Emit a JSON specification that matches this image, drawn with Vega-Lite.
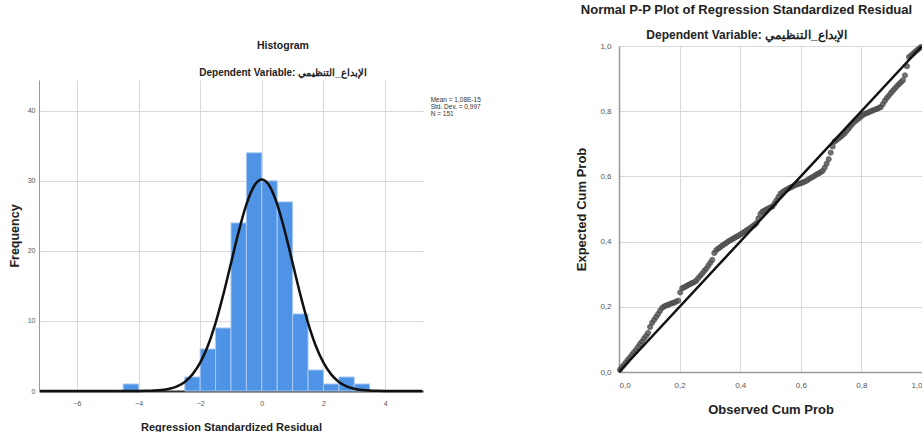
{
  "$schema": "https://vega.github.io/schema/vega-lite/v6.json",
  "background": "white",
  "padding": {"left": 8, "top": 4, "right": 0, "bottom": 0},
  "config": {
    "view": {"stroke": null},
    "font": "Liberation Sans",
    "concat": {"spacing": 94}
  },
  "hconcat": [
    {
      "title": {
        "text": "Histogram",
        "subtitle": "Dependent Variable: الإبداع_التنظيمي",
        "fontSize": 10.5,
        "fontWeight": "bold",
        "subtitleFontSize": 10,
        "subtitleFontWeight": "bold",
        "subtitlePadding": 17,
        "color": "#222222",
        "subtitleColor": "#222222",
        "frame": "group",
        "anchor": "middle",
        "dx": 244,
        "offset": -32
      },
      "spacing": 0,
      "vconcat": [
        {
          "width": 384,
          "height": 34,
          "data": {"values": []},
          "mark": {"type": "text"},
          "encoding": {}
        },
        {
          "width": 384,
          "height": 311,
          "layer": [
            {
              "data": {
                "values": [
                  {"bin_start": -4.5, "bin_end": -4.0, "count": 1},
                  {"bin_start": -2.5, "bin_end": -2.0, "count": 2},
                  {"bin_start": -2.0, "bin_end": -1.5, "count": 6},
                  {"bin_start": -1.5, "bin_end": -1.0, "count": 9},
                  {"bin_start": -1.0, "bin_end": -0.5, "count": 24},
                  {"bin_start": -0.5, "bin_end": 0.0, "count": 34},
                  {"bin_start": 0.0, "bin_end": 0.5, "count": 30},
                  {"bin_start": 0.5, "bin_end": 1.0, "count": 27},
                  {"bin_start": 1.0, "bin_end": 1.5, "count": 11},
                  {"bin_start": 1.5, "bin_end": 2.0, "count": 3},
                  {"bin_start": 2.0, "bin_end": 2.5, "count": 1},
                  {"bin_start": 2.5, "bin_end": 3.0, "count": 2},
                  {"bin_start": 3.0, "bin_end": 3.5, "count": 1}
                ]
              },
              "mark": {"type": "rect", "color": "#4f93e6", "stroke": "#a9c9f0", "strokeWidth": 1},
              "encoding": {
                "x": {
                  "field": "bin_start",
                  "type": "quantitative",
                  "scale": {"domain": [-7.23, 5.23], "nice": false, "zero": false},
                  "axis": {
                    "values": [-6, -4, -2, 0, 2, 4],
                    "grid": true,
                    "gridColor": "#d9d9d9",
                    "domainColor": "#333333",
                    "domainWidth": 2,
                    "ticks": false,
                    "labelFontSize": 7,
                    "labelColor": "#555555",
                    "labelPadding": 8,
                    "title": "Regression Standardized Residual",
                    "titleFontSize": 11,
                    "titleFontWeight": "bold",
                    "titleColor": "#222222",
                    "titlePadding": 15
                  }
                },
                "x2": {"field": "bin_end"},
                "y": {
                  "field": "count",
                  "type": "quantitative",
                  "scale": {"domain": [0, 44.4], "nice": false},
                  "axis": {
                    "values": [0, 10, 20, 30, 40],
                    "grid": true,
                    "gridColor": "#d9d9d9",
                    "domainColor": "#999999",
                    "ticks": false,
                    "labelFontSize": 7,
                    "labelColor": "#555555",
                    "labelPadding": 4,
                    "title": "Frequency",
                    "titleFontSize": 12.5,
                    "titleFontWeight": "bold",
                    "titleColor": "#222222",
                    "titlePadding": 6
                  }
                },
                "y2": {"datum": 0}
              }
            },
            {
              "data": {
                "values": [
                  {"residual": -7.2, "density": 0},
                  {"residual": -5.0, "density": 0},
                  {"residual": -4.5, "density": 0.001},
                  {"residual": -4.0, "density": 0.01},
                  {"residual": -3.75, "density": 0.026},
                  {"residual": -3.5, "density": 0.064},
                  {"residual": -3.25, "density": 0.149},
                  {"residual": -3.0, "density": 0.33},
                  {"residual": -2.75, "density": 0.67},
                  {"residual": -2.5, "density": 1.30},
                  {"residual": -2.25, "density": 2.37},
                  {"residual": -2.0, "density": 4.04},
                  {"residual": -1.75, "density": 6.47},
                  {"residual": -1.5, "density": 9.74},
                  {"residual": -1.25, "density": 13.76},
                  {"residual": -1.0, "density": 18.26},
                  {"residual": -0.75, "density": 22.76},
                  {"residual": -0.5, "density": 26.63},
                  {"residual": -0.25, "density": 29.27},
                  {"residual": 0.0, "density": 30.2},
                  {"residual": 0.25, "density": 29.27},
                  {"residual": 0.5, "density": 26.63},
                  {"residual": 0.75, "density": 22.76},
                  {"residual": 1.0, "density": 18.26},
                  {"residual": 1.25, "density": 13.76},
                  {"residual": 1.5, "density": 9.74},
                  {"residual": 1.75, "density": 6.47},
                  {"residual": 2.0, "density": 4.04},
                  {"residual": 2.25, "density": 2.37},
                  {"residual": 2.5, "density": 1.30},
                  {"residual": 2.75, "density": 0.67},
                  {"residual": 3.0, "density": 0.33},
                  {"residual": 3.25, "density": 0.149},
                  {"residual": 3.5, "density": 0.064},
                  {"residual": 3.75, "density": 0.026},
                  {"residual": 4.0, "density": 0.01},
                  {"residual": 4.5, "density": 0.001},
                  {"residual": 5.2, "density": 0}
                ]
              },
              "mark": {"type": "line", "color": "#111111", "strokeWidth": 2.5, "interpolate": "monotone"},
              "encoding": {
                "x": {"field": "residual", "type": "quantitative"},
                "y": {"field": "density", "type": "quantitative"}
              }
            },
            {
              "data": {"values": [{"stats": "Mean = 1,08E-15\nStd. Dev. = 0,997\nN = 151"}]},
              "mark": {"type": "text", "lineBreak": "\n", "align": "left", "baseline": "top", "fontSize": 6.5, "lineHeight": 7, "color": "#333333"},
              "encoding": {
                "x": {"datum": 5.48},
                "y": {"datum": 42.0},
                "text": {"field": "stats"}
              }
            }
          ]
        }
      ]
    },
    {
      "width": 303,
      "height": 326,
      "title": {
        "text": "Normal P-P Plot of Regression Standardized Residual",
        "subtitle": "Dependent Variable: الإبداع_التنظيمي",
        "fontSize": 13,
        "fontWeight": "bold",
        "subtitleFontSize": 12,
        "subtitleFontWeight": "bold",
        "subtitlePadding": 13,
        "color": "#222222",
        "subtitleColor": "#222222",
        "frame": "group",
        "anchor": "middle",
        "dx": -24,
        "offset": 0
      },
      "layer": [
        {
          "data": {
            "values": [
              {"observed": 0.0033, "expected": 0.007}, {"observed": 0.0099, "expected": 0.015}, {"observed": 0.0166, "expected": 0.022},
              {"observed": 0.0232, "expected": 0.030}, {"observed": 0.0298, "expected": 0.038}, {"observed": 0.0364, "expected": 0.045},
              {"observed": 0.0430, "expected": 0.053}, {"observed": 0.0497, "expected": 0.061}, {"observed": 0.0563, "expected": 0.068},
              {"observed": 0.0629, "expected": 0.077}, {"observed": 0.0695, "expected": 0.086}, {"observed": 0.0762, "expected": 0.094},
              {"observed": 0.0828, "expected": 0.103}, {"observed": 0.0894, "expected": 0.111}, {"observed": 0.0960, "expected": 0.120},
              {"observed": 0.1026, "expected": 0.138}, {"observed": 0.1093, "expected": 0.151}, {"observed": 0.1159, "expected": 0.160},
              {"observed": 0.1225, "expected": 0.169}, {"observed": 0.1291, "expected": 0.178}, {"observed": 0.1358, "expected": 0.188},
              {"observed": 0.1424, "expected": 0.197}, {"observed": 0.1490, "expected": 0.201}, {"observed": 0.1556, "expected": 0.204},
              {"observed": 0.1623, "expected": 0.206}, {"observed": 0.1689, "expected": 0.209}, {"observed": 0.1755, "expected": 0.211},
              {"observed": 0.1821, "expected": 0.213}, {"observed": 0.1887, "expected": 0.216}, {"observed": 0.1954, "expected": 0.219},
              {"observed": 0.2020, "expected": 0.244}, {"observed": 0.2086, "expected": 0.257}, {"observed": 0.2152, "expected": 0.260},
              {"observed": 0.2219, "expected": 0.263}, {"observed": 0.2285, "expected": 0.267}, {"observed": 0.2351, "expected": 0.270},
              {"observed": 0.2417, "expected": 0.273}, {"observed": 0.2483, "expected": 0.276}, {"observed": 0.2550, "expected": 0.280},
              {"observed": 0.2616, "expected": 0.288}, {"observed": 0.2682, "expected": 0.295}, {"observed": 0.2748, "expected": 0.302},
              {"observed": 0.2815, "expected": 0.310}, {"observed": 0.2881, "expected": 0.317}, {"observed": 0.2947, "expected": 0.326},
              {"observed": 0.3013, "expected": 0.335}, {"observed": 0.3079, "expected": 0.344}, {"observed": 0.3146, "expected": 0.365},
              {"observed": 0.3212, "expected": 0.374}, {"observed": 0.3278, "expected": 0.379}, {"observed": 0.3344, "expected": 0.383},
              {"observed": 0.3411, "expected": 0.388}, {"observed": 0.3477, "expected": 0.392}, {"observed": 0.3543, "expected": 0.396},
              {"observed": 0.3609, "expected": 0.401}, {"observed": 0.3675, "expected": 0.404}, {"observed": 0.3742, "expected": 0.408},
              {"observed": 0.3808, "expected": 0.411}, {"observed": 0.3874, "expected": 0.415}, {"observed": 0.3940, "expected": 0.418},
              {"observed": 0.4007, "expected": 0.422}, {"observed": 0.4073, "expected": 0.426}, {"observed": 0.4139, "expected": 0.430},
              {"observed": 0.4205, "expected": 0.434}, {"observed": 0.4272, "expected": 0.438}, {"observed": 0.4338, "expected": 0.442},
              {"observed": 0.4404, "expected": 0.447}, {"observed": 0.4470, "expected": 0.451}, {"observed": 0.4536, "expected": 0.457},
              {"observed": 0.4603, "expected": 0.471}, {"observed": 0.4669, "expected": 0.485}, {"observed": 0.4735, "expected": 0.492},
              {"observed": 0.4801, "expected": 0.495}, {"observed": 0.4868, "expected": 0.499}, {"observed": 0.4934, "expected": 0.502},
              {"observed": 0.5000, "expected": 0.505}, {"observed": 0.5066, "expected": 0.508}, {"observed": 0.5132, "expected": 0.517},
              {"observed": 0.5199, "expected": 0.527}, {"observed": 0.5265, "expected": 0.537}, {"observed": 0.5331, "expected": 0.547},
              {"observed": 0.5397, "expected": 0.552}, {"observed": 0.5464, "expected": 0.556}, {"observed": 0.5530, "expected": 0.559},
              {"observed": 0.5596, "expected": 0.563}, {"observed": 0.5662, "expected": 0.566}, {"observed": 0.5728, "expected": 0.569},
              {"observed": 0.5795, "expected": 0.573}, {"observed": 0.5861, "expected": 0.575}, {"observed": 0.5927, "expected": 0.577},
              {"observed": 0.5993, "expected": 0.579}, {"observed": 0.6060, "expected": 0.581}, {"observed": 0.6126, "expected": 0.584},
              {"observed": 0.6192, "expected": 0.587}, {"observed": 0.6258, "expected": 0.591}, {"observed": 0.6325, "expected": 0.595},
              {"observed": 0.6391, "expected": 0.598}, {"observed": 0.6457, "expected": 0.602}, {"observed": 0.6523, "expected": 0.606},
              {"observed": 0.6589, "expected": 0.609}, {"observed": 0.6656, "expected": 0.613}, {"observed": 0.6722, "expected": 0.617},
              {"observed": 0.6788, "expected": 0.627}, {"observed": 0.6854, "expected": 0.639}, {"observed": 0.6921, "expected": 0.653},
              {"observed": 0.6987, "expected": 0.673}, {"observed": 0.7053, "expected": 0.692}, {"observed": 0.7119, "expected": 0.707},
              {"observed": 0.7185, "expected": 0.712}, {"observed": 0.7252, "expected": 0.717}, {"observed": 0.7318, "expected": 0.722},
              {"observed": 0.7384, "expected": 0.727}, {"observed": 0.7450, "expected": 0.732}, {"observed": 0.7517, "expected": 0.740},
              {"observed": 0.7583, "expected": 0.747}, {"observed": 0.7649, "expected": 0.755}, {"observed": 0.7715, "expected": 0.762},
              {"observed": 0.7781, "expected": 0.769}, {"observed": 0.7848, "expected": 0.773}, {"observed": 0.7914, "expected": 0.778},
              {"observed": 0.7980, "expected": 0.783}, {"observed": 0.8046, "expected": 0.788}, {"observed": 0.8113, "expected": 0.792},
              {"observed": 0.8179, "expected": 0.794}, {"observed": 0.8245, "expected": 0.797}, {"observed": 0.8311, "expected": 0.800},
              {"observed": 0.8377, "expected": 0.802}, {"observed": 0.8444, "expected": 0.805}, {"observed": 0.8510, "expected": 0.807},
              {"observed": 0.8576, "expected": 0.810}, {"observed": 0.8642, "expected": 0.813}, {"observed": 0.8709, "expected": 0.822},
              {"observed": 0.8775, "expected": 0.832}, {"observed": 0.8841, "expected": 0.841}, {"observed": 0.8907, "expected": 0.848},
              {"observed": 0.8974, "expected": 0.856}, {"observed": 0.9040, "expected": 0.863}, {"observed": 0.9106, "expected": 0.870},
              {"observed": 0.9172, "expected": 0.877}, {"observed": 0.9238, "expected": 0.883}, {"observed": 0.9305, "expected": 0.889},
              {"observed": 0.9371, "expected": 0.895}, {"observed": 0.9437, "expected": 0.910}, {"observed": 0.9503, "expected": 0.938},
              {"observed": 0.9570, "expected": 0.966}, {"observed": 0.9636, "expected": 0.971}, {"observed": 0.9702, "expected": 0.976},
              {"observed": 0.9768, "expected": 0.982}, {"observed": 0.9834, "expected": 0.987}, {"observed": 0.9901, "expected": 0.992},
              {"observed": 0.9967, "expected": 0.997}
            ]
          },
          "mark": {"type": "point", "filled": true, "color": "#5a5a5a", "size": 28, "opacity": 0.85, "stroke": "#333333", "strokeWidth": 0.6},
          "encoding": {
            "x": {
              "field": "observed",
              "type": "quantitative",
              "scale": {"domain": [0, 1], "nice": false},
              "axis": {
                "values": [0, 0.2, 0.4, 0.6, 0.8, 1.0],
                "labelExpr": "replace(format(datum.value, '.1f'), '.', ',')",
                "grid": true,
                "gridColor": "#d9d9d9",
                "domainColor": "#999999",
                "domainWidth": 1.5,
                "ticks": false,
                "labelFontSize": 8,
                "labelColor": "#555555",
                "labelPadding": 9,
                "title": "Observed Cum Prob",
                "titleFontSize": 13,
                "titleFontWeight": "bold",
                "titleColor": "#222222",
                "titlePadding": 14
              }
            },
            "y": {
              "field": "expected",
              "type": "quantitative",
              "scale": {"domain": [0, 1], "nice": false},
              "axis": {
                "values": [0, 0.2, 0.4, 0.6, 0.8, 1.0],
                "labelExpr": "replace(format(datum.value, '.1f'), '.', ',')",
                "grid": true,
                "gridColor": "#d9d9d9",
                "domainColor": "#999999",
                "domainWidth": 1.5,
                "ticks": false,
                "labelFontSize": 8,
                "labelColor": "#555555",
                "labelPadding": 8,
                "title": "Expected Cum Prob",
                "titleFontSize": 13,
                "titleFontWeight": "bold",
                "titleColor": "#222222",
                "titlePadding": 11
              }
            }
          }
        },
        {
          "data": {"values": [{"observed": 0, "expected": 0}, {"observed": 1, "expected": 1}]},
          "mark": {"type": "line", "color": "#111111", "strokeWidth": 2.5},
          "encoding": {
            "x": {"field": "observed", "type": "quantitative"},
            "y": {"field": "expected", "type": "quantitative"}
          }
        }
      ]
    }
  ]
}
